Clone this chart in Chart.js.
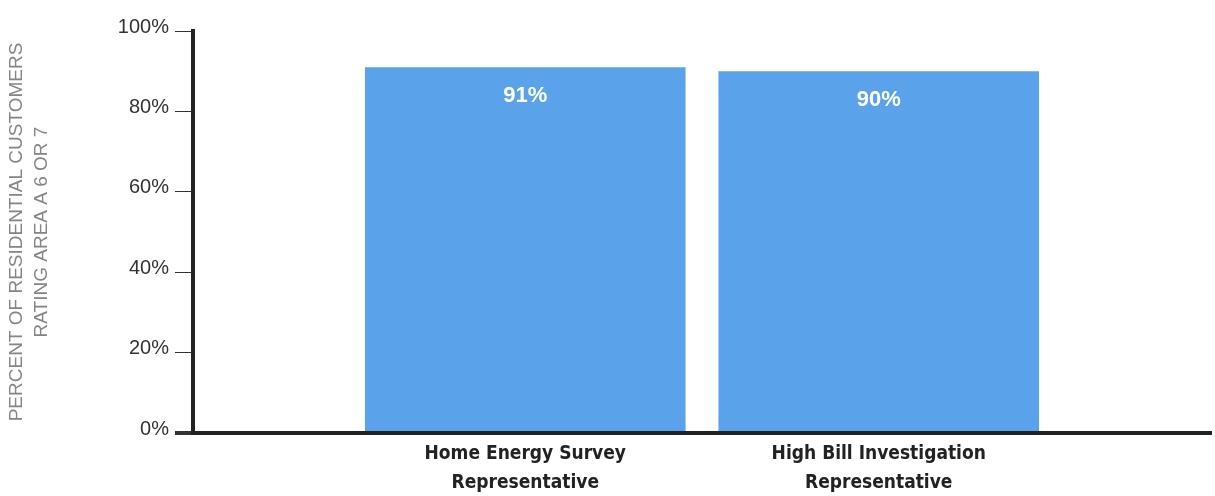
<!DOCTYPE html>
<html>
<head>
<meta charset="utf-8">
<title>Residential customer ratings</title>
<script src="https://cdn.jsdelivr.net/npm/chart.js@4/dist/chart.umd.min.js"></script>
<style>
  html, body { margin: 0; padding: 0; background: #fff; }
  #wrap { width: 1215px; height: 496px; }
</style>
</head>
<body>
<div id="wrap"><canvas id="ratingChart" width="1215" height="496"></canvas></div>
<script>
// Survey results
const categories = [
  ['Home Energy Survey', 'Representative'],
  ['High Bill Investigation', 'Representative']
];
const ratings = [91, 90];
const yTicks = [0, 20, 40, 60, 80, 100];

const barColor = '#5aa3ea';
const axisColor = '#222222';

// bars sit on a linear x scale at positions 1, 2, ...
const points = ratings.map((v, i) => ({ x: i + 1, y: v }));

// white value text near the top of each bar
const barLabels = {
  id: 'barLabels',
  afterDatasetsDraw(chart) {
    const ctx = chart.ctx;
    chart.getDatasetMeta(0).data.forEach((bar, i) => {
      ctx.save();
      ctx.fillStyle = '#ffffff';
      ctx.font = 'bold 22px "Liberation Sans", Arial, sans-serif';
      ctx.textAlign = 'center';
      ctx.textBaseline = 'middle';
      ctx.fillText(ratings[i] + '%', bar.x, bar.y + 29);
      ctx.restore();
    });
  }
};

new Chart(document.getElementById('ratingChart'), {
  type: 'bar',
  data: {
    datasets: [{
      data: points,
      backgroundColor: barColor,
      borderWidth: 0,
      categoryPercentage: 1,
      barPercentage: 0.907
    }]
  },
  options: {
    responsive: false,
    animation: false,
    layout: { padding: { top: 31, right: 4, left: 0, bottom: 0 } },
    plugins: {
      legend: { display: false },
      tooltip: { enabled: false }
    },
    scales: {
      x: {
        type: 'linear',
        min: 0.06,
        max: 2.94,
        offset: false,
        afterBuildTicks: (scale) => {
          scale.ticks = categories.map((c, i) => ({ value: i + 1 }));
        },
        afterFit: (scale) => { scale.height = 63; },
        grid: { display: false, drawTicks: false },
        border: { display: true, color: axisColor, width: 4 },
        ticks: {
          maxRotation: 0,
          autoSkip: false,
          padding: 6,
          color: '#222',
          font: { family: '"DejaVu Sans Condensed", "Liberation Sans", sans-serif', size: 19, weight: 'bold', lineHeight: 1.55 },
          callback: (v) => categories[v - 1] || ''
        }
      },
      y: {
        min: 0,
        max: 100,
        afterBuildTicks: (scale) => {
          scale.ticks = yTicks.map(v => ({ value: v }));
        },
        afterFit: (scale) => { scale.width = 193; },
        grid: {
          drawOnChartArea: false,
          drawTicks: true,
          tickLength: 18,
          color: '#333',
          lineWidth: (ctx) => (ctx.tick && ctx.tick.value === 0 ? 4 : 1)
        },
        border: { display: true, color: axisColor, width: 4 },
        ticks: {
          padding: 6,
          labelOffset: -4,
          color: '#333',
          font: { family: '"Liberation Sans", Arial, sans-serif', size: 20 },
          callback: (v) => v + '%'
        },
        title: {
          display: true,
          text: ['PERCENT OF RESIDENTIAL CUSTOMERS', 'RATING AREA A 6 OR 7'],
          color: '#858585',
          padding: { top: 4, bottom: 0 },
          font: { family: '"Liberation Sans", Arial, sans-serif', size: 19, lineHeight: 1.32 }
        }
      }
    }
  },
  plugins: [barLabels]
});
</script>
</body>
</html>
